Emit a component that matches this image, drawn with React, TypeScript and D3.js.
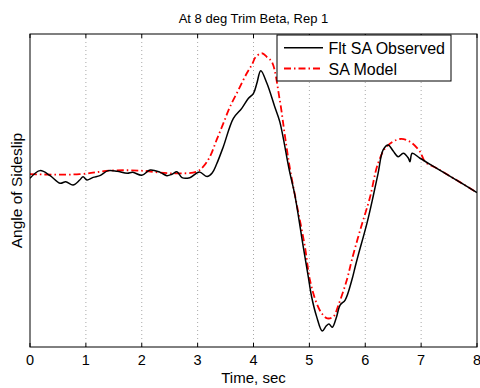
import React from "react";
import * as d3 from "d3";

const title = "At 8 deg Trim Beta, Rep 1";
const xLabel = "Time, sec";
const yLabel = "Angle of Sideslip";
const xTicks = [0, 1, 2, 3, 4, 5, 6, 7, 8];
const seriesNames = ["Flt SA Observed", "SA Model"];

// Observed sideslip (time s, value)
const obsTime = [0, 0.18, 0.36, 0.54, 0.64, 0.77, 0.89, 0.95, 1.02, 1.13, 1.25, 1.4, 1.56, 1.74, 1.84, 2.0, 2.15, 2.33, 2.45, 2.54, 2.63, 2.72, 2.86, 3.03, 3.17, 3.26, 3.34, 3.46, 3.64, 3.79, 3.91, 4.0, 4.06, 4.13, 4.24, 4.38, 4.47, 4.64, 4.74, 4.89, 4.98, 5.04, 5.13, 5.23, 5.3, 5.35, 5.41, 5.48, 5.55, 5.64, 5.76, 5.82, 5.87, 6.03, 6.14, 6.23, 6.32, 6.41, 6.5, 6.59, 6.68, 6.77, 6.8, 6.84, 6.98, 7.28, 7.58, 8.0];
const obsValue = [0.78, 1.27, 0.95, 0.46, 0.56, 0.35, 0.67, 0.88, 0.67, 0.84, 0.95, 1.27, 1.23, 1.1, 1.16, 0.97, 1.31, 1.16, 0.95, 1.04, 1.2, 0.82, 0.82, 1.18, 0.89, 1.12, 1.69, 2.8, 4.61, 5.25, 5.89, 6.21, 6.85, 7.65, 6.85, 5.35, 4.4, 1.31, -0.29, -3.59, -5.51, -6.79, -8.06, -8.98, -8.66, -8.53, -8.74, -8.15, -7.32, -7.0, -5.72, -4.87, -4.19, -2.1, -0.4, 1.1, 2.59, 2.91, 2.52, 2.16, 2.38, 2.08, 1.84, 2.38, 2.06, 1.42, 0.78, -0.13];

// Model sideslip
const modTime = [0, 0.89, 1.43, 1.97, 2.51, 2.98, 3.1, 3.22, 3.34, 3.46, 3.58, 3.73, 3.88, 3.97, 4.04, 4.15, 4.24, 4.33, 4.47, 4.56, 4.65, 4.77, 4.92, 5.01, 5.13, 5.23, 5.32, 5.43, 5.52, 5.67, 5.76, 5.91, 6.08, 6.23, 6.38, 6.62, 6.8, 6.98, 7.07, 7.28, 7.58, 8.0];
const modValue = [1.04, 1.04, 1.27, 1.27, 1.1, 1.2, 1.52, 2.16, 3.23, 4.29, 5.35, 6.42, 7.49, 8.02, 8.53, 8.77, 8.53, 8.21, 5.78, 3.55, 1.44, -0.82, -3.59, -5.72, -7.21, -7.89, -8.17, -8.06, -7.32, -5.72, -4.44, -2.52, -0.5, 1.74, 2.8, 3.29, 3.12, 2.48, 1.84, 1.42, 0.78, -0.13];

const W = 480;
const H = 388;
const M = { left: 30, right: 3, top: 34, bottom: 41 };

export default function App() {
  const x = d3.scaleLinear().domain([0, 8]).range([M.left, W - M.right]);
  const y = d3.scaleLinear().domain([-10, 10]).range([H - M.bottom, M.top]);

  const obs = obsTime.map((t, i) => [t, obsValue[i]] as [number, number]);
  const mod = modTime.map((t, i) => [t, modValue[i]] as [number, number]);

  const line = d3
    .line<[number, number]>()
    .x((d) => x(d[0]))
    .y((d) => y(d[1]))
    .curve(d3.curveCatmullRom.alpha(0.5));

  const x0 = x(0);
  const x1 = x(8);
  const yTop = y(10);
  const yBot = y(-10);
  const font = "Liberation Sans, Arial, Helvetica, sans-serif";

  const lg = { x: 277, y: 35, w: 174, h: 46 };

  return (
    <svg
      width={W}
      height={H}
      style={{ position: "fixed", left: 0, top: 0, background: "#fff" }}
      fontFamily={font}
    >
      <rect x={0} y={0} width={W} height={H} fill="#fff" />
      <defs>
        <clipPath id="plotclip">
          <rect x={x0} y={yTop} width={x1 - x0} height={yBot - yTop} />
        </clipPath>
      </defs>
      {/* grid */}
      {xTicks.slice(1, -1).map((t) => (
        <line
          key={"g" + t}
          x1={x(t)}
          x2={x(t)}
          y1={yTop}
          y2={yBot}
          stroke="#a8a8a8"
          strokeWidth={1}
          strokeDasharray="1,3"
        />
      ))}
      {/* ticks */}
      {xTicks.map((t) => (
        <g key={"t" + t}>
          <line x1={x(t)} x2={x(t)} y1={yBot} y2={yBot - 4} stroke="#000" strokeWidth={1} />
          <line x1={x(t)} x2={x(t)} y1={yTop} y2={yTop + 4} stroke="#000" strokeWidth={1} />
          <text x={x(t)} y={364.5} textAnchor="middle" fontSize={14.5} fill="#000">
            {t}
          </text>
        </g>
      ))}
      <g clipPath="url(#plotclip)">
        <path d={line(mod) || ""} fill="none" stroke="#ff0000" strokeWidth={1.8} strokeDasharray="7,3,1.5,3" />
        <path d={line(obs) || ""} fill="none" stroke="#000" strokeWidth={1.5} />
      </g>
      {/* axes box */}
      <rect x={x0} y={yTop} width={x1 - x0} height={yBot - yTop} fill="none" stroke="#000" strokeWidth={1} />
      {/* legend */}
      <rect x={lg.x} y={lg.y} width={lg.w} height={lg.h} fill="#fff" stroke="#000" strokeWidth={1} />
      <line x1={284} x2={323} y1={47.7} y2={47.7} stroke="#000" strokeWidth={1.5} />
      <line x1={284} x2={323} y1={68.5} y2={68.5} stroke="#ff0000" strokeWidth={1.8} strokeDasharray="7,3,1.5,3" />
      <text x={328.5} y={54} fontSize={16} fill="#000">{seriesNames[0]}</text>
      <text x={328.5} y={75.3} fontSize={16} fill="#000">{seriesNames[1]}</text>
      {/* title and labels */}
      <text x={(x0 + x1) / 2} y={23} textAnchor="middle" fontSize={13} fill="#000">
        {title}
      </text>
      <text x={(x0 + x1) / 2} y={383} textAnchor="middle" fontSize={15} fill="#000">
        {xLabel}
      </text>
      <text
        transform={`translate(21.5, ${(yTop + yBot) / 2}) rotate(-90)`}
        textAnchor="middle"
        fontSize={15.5}
        fill="#000"
      >
        {yLabel}
      </text>
    </svg>
  );
}
